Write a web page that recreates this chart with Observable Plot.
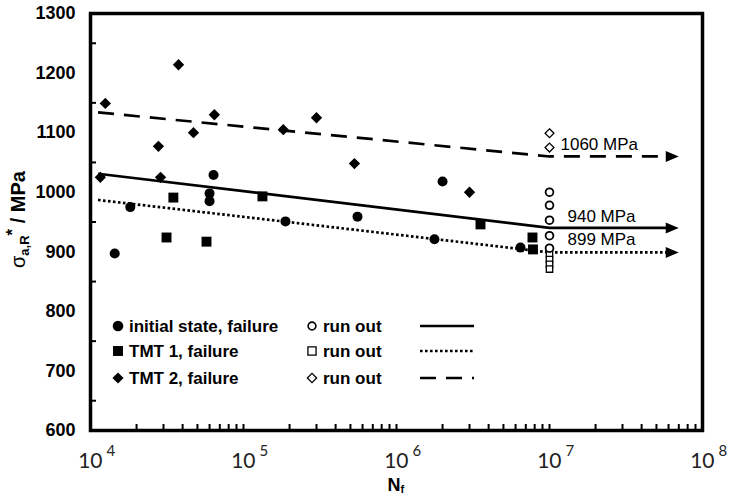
<!DOCTYPE html>
<html>
<head>
<meta charset="utf-8">
<script src="https://cdn.jsdelivr.net/npm/d3@7"></script>
<script src="https://cdn.jsdelivr.net/npm/@observablehq/plot@0.6"></script>
<style>
  html, body { margin: 0; padding: 0; background: #fff; }
  #chart { width: 732px; height: 497px; }
</style>
</head>
<body>
<div id="chart"></div>
<script>
// Stress amplitude vs. cycles to failure for three material states.
const initialFailN = [14400, 18200, 60000, 60000, 63700, 188000, 556000, 1770000, 2000000, 6460000];
const initialFailS = [897, 975, 998, 985, 1029, 951, 959, 921, 1018, 907];
const tmt1FailN = [31400, 34800, 57300, 133000, 3540000, 7740000, 7800000];
const tmt1FailS = [924, 991, 917, 993, 946, 924, 904];
const tmt2FailN = [11600, 12500, 27800, 28700, 37600, 47100, 64500, 182000, 300000, 531000, 3000000];
const tmt2FailS = [1025, 1149, 1077, 1025, 1214, 1100, 1130, 1105, 1125, 1048, 1000];

// Run-outs, all stopped at the test limit
const runOutN = 1e7;
const initialRunOutS = [1000, 978, 953, 927, 906];
const tmt1RunOutS = [896, 887, 879, 871];
const tmt2RunOutS = [1099, 1075];

// Fatigue strength at the run-out limit
const initialLimit = 940;
const tmt1Limit = 899;
const tmt2Limit = 1060;

// Fitted S-N lines: start value, then the knee at the run-out limit
const fitStartN = 11200;
const fitEndN = 6.2e7;
const initialFitStart = 1031;
const tmt1FitStart = 987;
const tmt2FitStart = 1134;

const yTicks = [600, 700, 800, 900, 1000, 1100, 1200, 1300];
const yMinorTicks = [650, 750, 850, 950, 1050, 1150, 1250];
const xDecades = [1e4, 1e5, 1e6, 1e7, 1e8];
const xExponents = ["4", "5", "6", "7", "8"];

const legendFailure = ["initial state, failure", "TMT 1, failure", "TMT 2, failure"];
const legendRunOut = "run out";

const W = 732, H = 497;
const mL = 90, mR = 30, mT = 13, mB = 67;
const plotW = W - mL - mR, plotH = H - mT - mB;
const sans = "'Liberation Sans', Arial, sans-serif";

const pts = (N, S) => N.map((n, i) => ({n, s: S[i]}));
const runOut = (S) => S.map((s) => ({n: runOutN, s}));
const fit = (start, limit) => [
  {n: fitStartN, s: start},
  {n: runOutN, s: limit},
  {n: fitEndN, s: limit}
];

// minor + major log ticks along the bottom edge
const xTicks = [];
for (let d = 4; d < 8; d++) for (let k = 1; k <= 9; k++) xTicks.push(k * 10 ** d);
xTicks.push(1e8);

// filled arrowhead pointing right
const arrowHead = {
  draw(ctx) {
    ctx.moveTo(8, 0);
    ctx.lineTo(-5, -5.5);
    ctx.lineTo(-5, 5.5);
    ctx.closePath();
  }
};

const lineW = 2.7;
const dashStyles = {solid: null, dotted: "2.6,2.4", dashed: "16,10"};

const fits = [
  {data: fit(initialFitStart, initialLimit), dash: dashStyles.solid},
  {data: fit(tmt1FitStart, tmt1Limit), dash: dashStyles.dotted},
  {data: fit(tmt2FitStart, tmt2Limit), dash: dashStyles.dashed}
];

const svg = Plot.plot({
  width: W,
  height: H,
  marginLeft: mL,
  marginRight: mR,
  marginTop: mT,
  marginBottom: mB,
  x: {type: "log", domain: [1e4, 1e8], axis: null},
  y: {domain: [600, 1300], axis: null},
  style: {fontFamily: sans, color: "black", background: "white", overflow: "visible"},
  marks: [
    Plot.tickX(xTicks, {x: (d) => d, insetTop: plotH - 6, strokeWidth: 2}),
    Plot.tickY(yMinorTicks, {y: (d) => d, insetRight: plotW - 6, strokeWidth: 2}),

    ...fits.map((f) => Plot.line(f.data, {
      x: "n", y: "s", stroke: "black", strokeWidth: lineW,
      strokeDasharray: f.dash, strokeLinecap: "butt"
    })),
    Plot.dot(fits.map((f) => f.data[2]), {x: "n", y: "s", symbol: arrowHead, fill: "black", stroke: "none"}),

    Plot.dot(pts(initialFailN, initialFailS), {x: "n", y: "s", r: 5, fill: "black"}),
    Plot.dot(pts(tmt1FailN, tmt1FailS), {x: "n", y: "s", symbol: "square", r: 5.6, fill: "black"}),
    Plot.dot(pts(tmt2FailN, tmt2FailS), {x: "n", y: "s", symbol: "diamond2", r: 5.1, fill: "black"}),

    Plot.dot(runOut(tmt1RunOutS), {x: "n", y: "s", symbol: "square", r: 3.6, fill: "white", stroke: "black", strokeWidth: 1.3}),
    Plot.dot(runOut(initialRunOutS), {x: "n", y: "s", r: 3.9, fill: "white", stroke: "black", strokeWidth: 1.8}),
    Plot.dot(runOut(tmt2RunOutS), {x: "n", y: "s", symbol: "diamond2", r: 4, fill: "white", stroke: "black", strokeWidth: 1.3}),

    Plot.text([tmt2Limit], {x: runOutN, y: (d) => d, text: (d) => `${d} MPa`, textAnchor: "start", dx: 11, dy: -12, fontSize: 17}),
    Plot.text([initialLimit], {x: runOutN, y: (d) => d, text: (d) => `${d} MPa`, textAnchor: "start", dx: 18, dy: -11, fontSize: 17}),
    Plot.text([tmt1Limit], {x: runOutN, y: (d) => d, text: (d) => `${d} MPa`, textAnchor: "start", dx: 18, dy: -13, fontSize: 17}),

    Plot.frame({stroke: "black", strokeWidth: 3.5}),

    // y tick labels
    Plot.text(yTicks, {y: (d) => d, text: (d) => String(d), frameAnchor: "left", textAnchor: "end",
      dx: -15, fontSize: 18, fontWeight: "bold"}),
    // x tick labels: 10 with superscript exponent
    Plot.text(xDecades, {x: (d) => d, text: () => "10", frameAnchor: "bottom", lineAnchor: "bottom",
      textAnchor: "end", dx: 12, dy: 37, fontSize: 21, fontFamily: "Lato, sans-serif", fill: "#222"}),
    Plot.text(xDecades, {x: (d) => d, text: (d, i) => xExponents[i], frameAnchor: "bottom", lineAnchor: "bottom",
      textAnchor: "start", dx: 16, dy: 25, fontSize: 15, fontFamily: "Lato, sans-serif", fill: "#222"}),
    // x axis title N_f
    Plot.text(["N"], {text: (d) => d, frameAnchor: "bottom", lineAnchor: "bottom", textAnchor: "end",
      dx: 4, dy: 60, fontSize: 18, fontWeight: "bold"}),
    Plot.text(["f"], {text: (d) => d, frameAnchor: "bottom", lineAnchor: "bottom", textAnchor: "start",
      dx: 4, dy: 62, fontSize: 11, fontWeight: "bold"})
  ]
});

const root = d3.select(svg);

// y axis title: sigma_a,R* / MPa
const ylab = root.append("text")
  .attr("transform", `translate(25,${mT + plotH / 2 - 2}) rotate(-90)`)
  .attr("text-anchor", "middle")
  .attr("font-family", sans)
  .attr("font-size", 20)
  .attr("font-weight", "bold")
  .attr("fill", "black");
ylab.append("tspan").attr("font-weight", "normal").attr("fill", "black").text("σ");
ylab.append("tspan").attr("font-size", 13).attr("dy", 4).attr("fill", "black").text("a,R");
ylab.append("tspan").attr("font-size", 17).attr("dy", -11).attr("fill", "black").text("*");
ylab.append("tspan").attr("dy", 7).attr("fill", "black").text(" / MPa");

// legend, three rows × (failure marker, run-out marker, fit line)
const legendRows = [
  {symbol: d3.symbolCircle, size: Math.PI * 5.3 * 5.3, openSize: Math.PI * 3.9 * 3.9, openWidth: 1.6, dash: dashStyles.solid},
  {symbol: d3.symbolSquare, size: Math.PI * 5.6 * 5.6, openSize: Math.PI * 4.6 * 4.6, openWidth: 1.3, dash: dashStyles.dotted},
  {symbol: d3.symbolDiamond2, size: Math.PI * 5 * 5, openSize: Math.PI * 4.2 * 4.2, openWidth: 1.3, dash: dashStyles.dashed}
];
const rowY = [326, 351, 378];
const legend = root.append("g")
  .attr("font-family", sans)
  .attr("font-size", 17)
  .attr("font-weight", "bold")
  .attr("text-anchor", "start")
  .attr("fill", "black");
legendRows.forEach((row, i) => {
  const y = rowY[i];
  legend.append("path")
    .attr("transform", `translate(118,${y})`)
    .attr("d", d3.symbol(row.symbol, row.size)())
    .attr("fill", "black");
  legend.append("text").attr("x", 129).attr("y", y + 6).attr("text-anchor", "start").text(legendFailure[i]);
  legend.append("path")
    .attr("transform", `translate(312,${y})`)
    .attr("d", d3.symbol(row.symbol, row.openSize)())
    .attr("fill", "white").attr("stroke", "black").attr("stroke-width", row.openWidth);
  legend.append("text").attr("x", 323).attr("y", y + 6).attr("text-anchor", "start").text(legendRunOut);
  legend.append("line")
    .attr("x1", 420).attr("x2", 474).attr("y1", y).attr("y2", y)
    .attr("stroke", "black").attr("stroke-width", lineW)
    .attr("stroke-dasharray", row.dash);
});

document.getElementById("chart").appendChild(svg);
</script>
</body>
</html>
